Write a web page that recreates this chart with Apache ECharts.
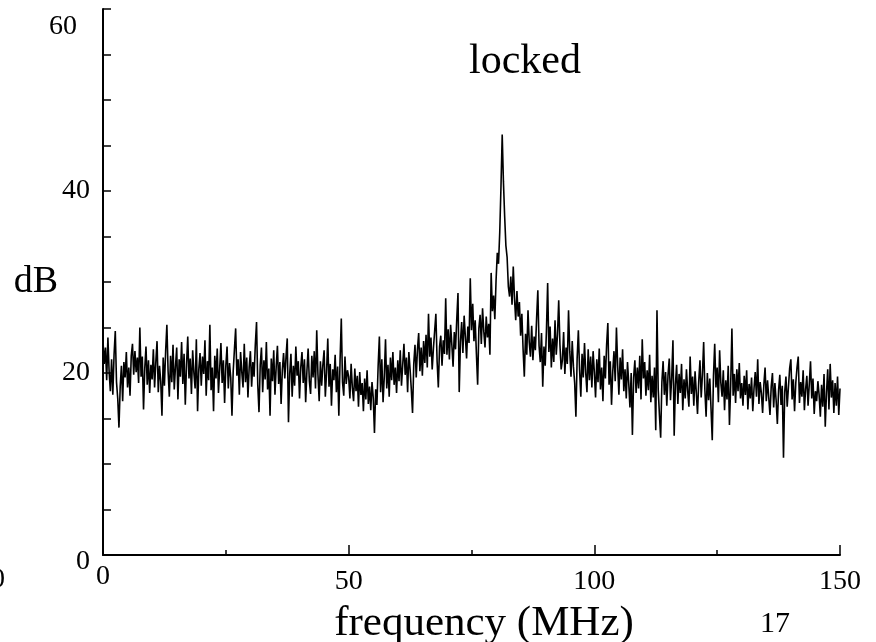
<!DOCTYPE html>
<html>
<head>
<meta charset="utf-8">
<script src="https://cdn.jsdelivr.net/npm/echarts@6/dist/echarts.min.js"></script>
<style>html,body{margin:0;padding:0;background:#fff}#chart{width:876px;height:642px}</style>
</head>
<body>
<div id="chart"></div>
<script>
// Frequency grid: 0 to 150 MHz, 0.25 MHz per sample
var freqStart = 0;
var freqStep = 0.25;
var xTicks = [0, 50, 100, 150];
var yTicks = [0, 20, 40, 60];

// Spectrum level (dB), one array per 10 MHz
var dB_000_010 = [23.5,21.0,22.8,19.2,23.9,20.1,18.0,21.5,17.6,22.0,24.6,19.0,17.2,14.0,18.5,20.8,16.9,21.2,19.5,22.3,18.4,20.6,17.5,21.9,23.2,19.8,22.4,20.1,21.7,18.9,25.0,19.6,21.8,16.0,20.5,22.9,18.7,21.4,17.8,20.9];
var dB_010_020 = [19.3,22.6,18.4,21.2,23.5,17.9,20.8,19.1,15.3,21.7,18.6,22.4,25.3,20.2,17.4,21.9,19.0,23.1,18.2,20.7,22.8,17.1,21.5,19.6,23.4,18.8,22.1,16.5,20.9,24.0,19.4,21.6,17.7,22.5,20.0,18.3,23.7,15.8,20.4,22.2];
var dB_020_030 = [18.6,21.8,19.9,23.6,17.5,21.3,19.2,25.3,18.1,20.6,15.8,21.9,19.4,22.7,17.8,20.5,23.3,18.9,21.4,16.7,20.8,22.9,18.3,21.1,19.5,15.3,20.2,22.6,24.9,19.7,21.5,17.6,22.3,20.1,18.4,23.2,19.0,21.7,17.3,20.6];
var dB_030_040 = [22.4,18.5,21.2,19.6,23.1,25.6,18.7,15.7,20.9,22.8,17.9,21.4,19.3,23.4,18.2,20.5,15.3,21.6,19.1,22.5,17.6,20.7,23.0,18.8,21.2,16.6,20.3,22.2,19.4,21.8,23.8,14.6,19.9,22.1,17.4,20.8,18.6,22.9,19.7,21.3];
var dB_040_050 = [17.2,20.6,22.3,18.9,21.5,16.8,20.2,22.7,19.1,17.7,21.9,19.5,22.4,18.3,24.7,19.8,16.9,21.3,18.6,20.9,22.5,17.4,20.1,23.8,18.5,21.0,16.4,20.4,19.2,22.0,17.9,20.7,15.3,21.4,26.0,19.0,17.5,21.8,18.8,20.3];
var dB_050_060 = [19.6,17.2,21.0,18.4,16.9,20.5,18.0,19.7,16.3,20.1,17.6,18.9,15.8,19.4,17.1,20.3,16.6,18.5,15.9,19.0,17.3,13.4,18.2,16.5,20.8,24.0,17.9,21.5,16.8,19.6,23.7,18.3,20.9,17.4,21.7,19.2,22.3,18.7,20.6,17.8];
var dB_060_070 = [21.4,19.1,22.5,18.6,20.9,23.2,19.8,21.7,17.9,22.3,20.4,18.2,15.6,21.0,23.1,19.5,22.6,24.4,20.2,22.8,19.7,23.5,21.1,24.2,20.6,26.5,21.8,23.9,20.4,22.7,24.6,26.5,21.3,18.4,22.9,24.1,20.8,23.6,22.1,28.2];
var dB_070_080 = [22.0,24.8,21.5,25.3,23.1,20.7,24.5,22.6,25.9,28.8,17.9,23.4,25.6,22.2,26.3,24.0,21.6,25.1,23.3,30.4,24.7,27.6,23.5,25.8,22.1,18.7,24.9,26.4,23.2,27.1,24.6,22.8,26.2,23.9,25.4,22.0,31.0,26.8,28.5,25.9];
var dB_080_090 = [30.2,33.2,32.0,35.5,40.5,46.2,41.0,37.2,34.0,32.7,29.5,28.4,30.6,27.5,31.7,28.2,25.8,29.0,26.2,27.8,24.1,26.5,22.6,19.6,24.3,22.0,26.9,23.4,21.8,25.2,21.4,24.0,22.5,26.0,29.1,23.0,21.2,24.4,18.5,22.9];
var dB_090_100 = [20.8,24.6,29.9,22.3,25.1,20.6,23.8,21.2,25.8,22.0,24.2,28.0,23.1,20.4,21.4,24.5,19.9,22.8,21.0,26.9,22.4,19.6,23.5,20.7,18.9,15.2,21.6,24.7,20.3,17.4,22.1,19.5,23.3,20.0,17.9,22.6,19.2,21.8,18.4,22.4];
var dB_100_110 = [20.1,17.3,21.5,19.0,22.7,18.2,20.6,16.9,21.9,19.4,23.1,25.5,18.7,21.3,16.5,20.2,22.4,19.1,25.0,20.8,17.6,21.7,19.3,22.6,18.0,20.4,17.2,21.2,18.9,16.2,20.0,13.2,19.5,21.4,17.8,20.6,18.3,21.9,17.1,23.7];
var dB_110_120 = [19.4,21.2,17.5,20.3,18.1,22.0,16.8,19.7,17.3,20.6,13.7,26.9,18.2,15.4,12.9,19.0,21.3,17.6,20.1,16.4,19.8,21.6,17.0,19.5,23.6,13.1,18.7,20.9,16.6,19.9,17.8,21.0,15.9,19.3,17.2,20.4,18.0,16.3,21.8,17.7];
var dB_120_130 = [19.6,16.4,20.2,17.9,15.5,19.1,21.4,17.3,19.8,23.4,18.1,15.2,20.0,17.0,19.4,16.1,12.6,19.7,23.2,18.4,20.6,16.8,22.5,18.9,17.4,20.3,15.9,19.2,17.1,20.8,14.3,18.6,24.9,17.5,19.9,16.7,20.4,18.0,21.1,17.2];
var dB_130_140 = [18.9,16.4,19.7,17.6,20.3,16.0,18.8,17.2,19.5,15.8,18.3,20.1,17.4,21.5,16.6,19.0,17.8,15.6,18.7,20.6,16.9,19.2,17.3,15.4,18.5,20.0,16.2,18.9,17.0,14.4,18.1,19.8,16.5,18.6,10.7,17.9,19.6,16.3,18.4,20.5];
var dB_140_150 = [21.5,17.1,19.3,15.8,18.9,20.6,21.8,16.7,19.0,17.4,20.3,15.9,18.2,19.7,16.4,18.8,21.3,17.2,19.4,15.5,18.0,16.9,19.1,17.6,15.2,18.7,16.3,19.9,14.1,17.8,20.4,16.0,21.0,17.3,19.2,15.6,18.9,16.4,19.6,15.4,18.3];

var levels = [].concat(dB_000_010, dB_010_020, dB_020_030, dB_030_040, dB_040_050,
  dB_050_060, dB_060_070, dB_070_080, dB_080_090, dB_090_100, dB_100_110,
  dB_110_120, dB_120_130, dB_130_140, dB_140_150);
var series = levels.map(function (v, i) { return [freqStart + i * freqStep, v]; });

var SERIF = "'Liberation Serif', 'Times New Roman', Times, serif";
var chart = echarts.init(document.getElementById('chart'), null, { renderer: 'canvas' });
chart.setOption({
  animation: false,
  backgroundColor: '#ffffff',
  title: {
    text: 'locked',
    left: 520, top: 36,
    textAlign: 'center',
    textStyle: { fontFamily: SERIF, fontSize: 42, fontWeight: 'normal', color: '#000' }
  },
  grid: { left: 103, right: 36, top: 9, bottom: 87, containLabel: false, outerBoundsMode: 'none' },
  xAxis: {
    type: 'value', min: 0, max: 150, interval: 50,
    name: 'frequency (MHz)', nameLocation: 'middle', nameGap: 47, nameMoveOverlap: false,
    nameTextStyle: { fontFamily: SERIF, fontSize: 43, color: '#000', padding: [0, 0, 0, 25] },
    axisLine: { show: true, onZero: false, lineStyle: { color: '#000', width: 2 } },
    axisTick: { show: true, inside: true, length: 10, lineStyle: { color: '#000', width: 1.5 } },
    minorTick: { show: true, splitNumber: 2, length: 5, lineStyle: { color: '#000', width: 1.5 } },
    splitLine: { show: false },
    axisLabel: {
      margin: 8, color: '#000', fontFamily: SERIF, fontSize: 28,
      formatter: function (v) { return v === 0 ? '{z|0}' : '{n|' + v + '}'; },
      rich: {
        z: { fontFamily: SERIF, fontSize: 28, color: '#000' },
        n: { fontFamily: SERIF, fontSize: 28, color: '#000', padding: [5, 0, 0, 0] }
      }
    }
  },
  yAxis: {
    type: 'value', min: 0, max: 60, interval: 20,
    name: 'dB', nameLocation: 'middle', nameGap: 45, nameRotate: 0, nameMoveOverlap: false,
    nameTextStyle: { fontFamily: SERIF, fontSize: 38, color: '#000' },
    axisLine: { show: true, onZero: false, lineStyle: { color: '#000', width: 2 } },
    axisTick: { show: true, inside: true, length: 8, lineStyle: { color: '#000', width: 1.5 } },
    minorTick: { show: true, splitNumber: 4, length: 8, lineStyle: { color: '#000', width: 1.5 } },
    splitLine: { show: false },
    axisLabel: {
      margin: 13, color: '#000', fontFamily: SERIF, fontSize: 28,
      formatter: function (v) {
        if (v === 60) return '{t|60}';
        if (v === 0) return '{b|0}';
        return '{n|' + v + '}';
      },
      rich: {
        t: { fontFamily: SERIF, fontSize: 28, color: '#000', padding: [36, 13, 0, 0] },
        b: { fontFamily: SERIF, fontSize: 28, color: '#000', padding: [14, 0, 0, 0] },
        n: { fontFamily: SERIF, fontSize: 28, color: '#000' }
      }
    }
  },
  graphic: [
    { type: 'text', left: 760, top: 609, style: { text: '17', font: "30px 'Liberation Serif', serif", fill: '#000' } },
    { type: 'text', left: -9, top: 566, style: { text: '0', font: "28px 'Liberation Serif', serif", fill: '#000' } }
  ],
  series: [{
    type: 'line',
    data: series,
    showSymbol: false,
    symbol: 'none',
    lineStyle: { color: '#000', width: 1.6 }
  }]
});
</script>
</body>
</html>
